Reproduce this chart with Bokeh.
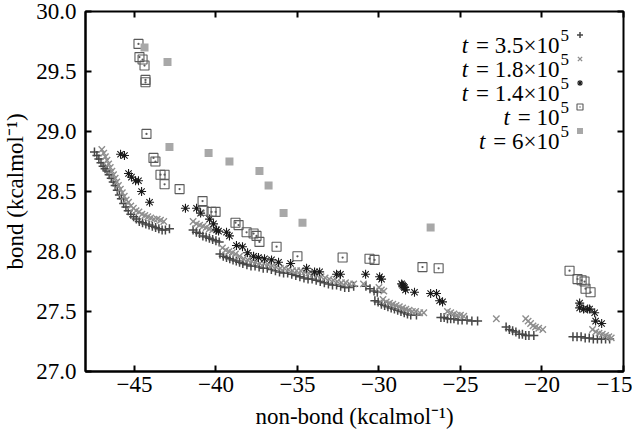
from bokeh.plotting import figure
from bokeh.models import Range1d, FixedTicker, LinearAxis, Legend, LegendItem, Label
from bokeh.embed import file_html
from bokeh.resources import INLINE

# ---------------- data ----------------
x_ticks = [-45, -40, -35, -30, -25, -20, -15]
x_tick_labels = ["−45", "−40", "−35", "−30", "−25", "−20", "−15"]
y_ticks = [27.0, 27.5, 28.0, 28.5, 29.0, 29.5, 30.0]
y_tick_labels = ["27.0", "27.5", "28.0", "28.5", "29.0", "29.5", "30.0"]

legend_main = ["= 3.5×10", "= 1.8×10", "= 1.4×10", "= 10", "= 6×10"]
legend_sup = ["5", "5", "5", "5", "5"]

# t = 3.5x10^5  (+)
t350k = [
    (-47.45, 28.83), (-47.30, 28.80), (-47.18, 28.77), (-47.05, 28.74), (-46.92, 28.71),
    (-46.80, 28.69), (-46.68, 28.67), (-46.55, 28.64), (-46.42, 28.61), (-46.30, 28.58),
    (-46.18, 28.55), (-46.05, 28.51), (-45.92, 28.47), (-45.80, 28.44), (-45.66, 28.40),
    (-45.52, 28.37), (-45.38, 28.34), (-45.22, 28.31), (-45.05, 28.29), (-44.88, 28.27),
    (-44.70, 28.25), (-44.50, 28.24), (-44.30, 28.23), (-44.10, 28.22), (-43.90, 28.21),
    (-43.70, 28.20), (-43.50, 28.19), (-43.30, 28.18), (-43.10, 28.18), (-42.85, 28.19),
    (-41.40, 28.18), (-41.20, 28.16), (-41.00, 28.15), (-40.80, 28.13), (-40.60, 28.12),
    (-40.40, 28.11), (-40.20, 28.10), (-40.00, 28.09), (-39.80, 28.08),
    (-39.75, 27.98), (-39.55, 27.96), (-39.35, 27.95), (-39.15, 27.94), (-38.95, 27.93),
    (-38.75, 27.92), (-38.55, 27.91), (-38.35, 27.90), (-38.10, 27.89), (-37.85, 27.88),
    (-37.60, 27.88), (-37.35, 27.87), (-37.10, 27.86), (-36.85, 27.86), (-36.60, 27.85),
    (-36.35, 27.84), (-36.10, 27.83), (-35.85, 27.82), (-35.60, 27.82), (-35.35, 27.81),
    (-35.10, 27.80), (-34.85, 27.79), (-34.60, 27.78), (-34.35, 27.77), (-34.10, 27.77),
    (-33.85, 27.76), (-33.60, 27.75), (-33.35, 27.74), (-33.10, 27.73), (-32.85, 27.72),
    (-32.60, 27.72), (-32.35, 27.71), (-32.10, 27.70), (-31.85, 27.70), (-31.55, 27.71),
    (-30.80, 27.71), (-30.55, 27.69), (-30.30, 27.67), (-30.10, 27.66),
    (-30.25, 27.59), (-30.05, 27.58), (-29.85, 27.56), (-29.65, 27.55), (-29.45, 27.54),
    (-29.25, 27.53), (-29.05, 27.52), (-28.85, 27.51), (-28.65, 27.50), (-28.45, 27.49),
    (-28.25, 27.48), (-28.05, 27.47), (-27.70, 27.47),
    (-26.20, 27.45), (-26.00, 27.45), (-25.80, 27.44), (-25.60, 27.44), (-25.40, 27.44),
    (-25.15, 27.43), (-24.90, 27.43), (-24.60, 27.43), (-24.30, 27.42), (-23.95, 27.42),
    (-22.20, 27.37), (-22.00, 27.35), (-21.80, 27.34), (-21.60, 27.33), (-21.40, 27.31),
    (-21.20, 27.31), (-21.00, 27.30), (-20.80, 27.30), (-20.50, 27.30),
    (-18.10, 27.29), (-17.85, 27.29), (-17.60, 27.29), (-17.35, 27.28), (-17.10, 27.28),
    (-16.85, 27.27), (-16.60, 27.27), (-16.35, 27.27), (-16.10, 27.27), (-15.85, 27.27),
]

# t = 1.8x10^5  (x)
t180k = [
    (-47.00, 28.85), (-46.88, 28.82), (-46.78, 28.79), (-46.68, 28.76), (-46.58, 28.73),
    (-46.48, 28.70), (-46.38, 28.67), (-46.28, 28.64), (-46.18, 28.61), (-46.08, 28.58),
    (-45.98, 28.55), (-45.86, 28.52), (-45.74, 28.49), (-45.62, 28.46), (-45.50, 28.43),
    (-45.36, 28.41), (-45.22, 28.38), (-45.06, 28.36), (-44.90, 28.34), (-44.72, 28.33),
    (-44.54, 28.31), (-44.36, 28.30), (-44.18, 28.29), (-44.00, 28.28), (-43.80, 28.27),
    (-43.60, 28.27), (-43.40, 28.26), (-43.20, 28.25),
    (-41.40, 28.25), (-41.20, 28.23), (-41.00, 28.22), (-40.80, 28.21), (-40.60, 28.20),
    (-40.40, 28.19), (-40.20, 28.18),
    (-39.60, 28.03), (-39.40, 28.01), (-39.20, 28.00), (-39.00, 27.99), (-38.80, 27.98),
    (-38.55, 27.96), (-38.30, 27.94), (-38.05, 27.93), (-37.80, 27.92), (-37.55, 27.91),
    (-37.30, 27.90), (-37.05, 27.90), (-36.80, 27.89), (-36.55, 27.88), (-36.30, 27.87),
    (-36.05, 27.86), (-35.80, 27.86), (-35.55, 27.85), (-35.30, 27.84), (-35.05, 27.84),
    (-34.80, 27.84), (-34.55, 27.83), (-34.30, 27.82), (-34.05, 27.81), (-33.80, 27.80),
    (-33.55, 27.79), (-33.30, 27.78), (-33.05, 27.77), (-32.80, 27.76), (-32.55, 27.75),
    (-32.30, 27.74), (-32.05, 27.74), (-31.80, 27.73), (-31.55, 27.73), (-30.95, 27.73),
    (-30.00, 27.70), (-29.85, 27.68), (-29.70, 27.67),
    (-29.75, 27.60), (-29.55, 27.58), (-29.35, 27.57), (-29.15, 27.56), (-28.95, 27.55),
    (-28.75, 27.54), (-28.55, 27.53), (-28.35, 27.52), (-28.15, 27.51), (-27.95, 27.50),
    (-27.75, 27.50), (-27.50, 27.49), (-27.25, 27.49),
    (-25.80, 27.50), (-25.60, 27.49), (-25.40, 27.48), (-25.20, 27.47), (-25.00, 27.47),
    (-24.80, 27.46), (-22.80, 27.44),
    (-21.00, 27.44), (-20.85, 27.42), (-20.70, 27.40), (-20.55, 27.38), (-20.40, 27.37),
    (-20.20, 27.36), (-19.95, 27.35),
    (-16.90, 27.35), (-16.70, 27.33), (-16.50, 27.32), (-16.30, 27.31), (-16.10, 27.30),
    (-15.90, 27.29), (-15.75, 27.28),
]

# t = 1.4x10^5  (asterisk)
t140k = [
    (-45.85, 28.81), (-45.61, 28.80), (-45.36, 28.65), (-45.18, 28.62), (-44.93, 28.59),
    (-44.75, 28.59), (-44.56, 28.50), (-44.07, 28.41), (-41.87, 28.36), (-41.19, 28.36),
    (-40.94, 28.32), (-40.39, 28.27), (-40.15, 28.23), (-39.96, 28.18), (-39.84, 28.17),
    (-39.35, 28.16), (-39.17, 28.13), (-38.74, 28.05), (-38.37, 28.04), (-38.06, 27.99),
    (-37.69, 27.96), (-37.39, 27.95), (-37.02, 27.94), (-36.59, 27.93), (-36.16, 27.91),
    (-35.42, 27.90), (-34.44, 27.86), (-33.95, 27.83), (-33.64, 27.83), (-32.60, 27.81),
    (-32.36, 27.81), (-30.82, 27.81), (-29.96, 27.79), (-29.84, 27.77), (-28.61, 27.73),
    (-28.55, 27.72), (-28.49, 27.71), (-28.43, 27.70), (-28.37, 27.68), (-27.82, 27.66),
    (-26.83, 27.65), (-26.47, 27.65), (-26.28, 27.59), (-26.10, 27.58), (-17.69, 27.57),
    (-17.69, 27.53), (-17.45, 27.52), (-17.20, 27.52), (-17.08, 27.52), (-16.77, 27.49),
    (-16.71, 27.42), (-16.34, 27.40),
]

# t = 10^5  (open square with dot)
t100k = [
    (-44.75, 29.73), (-44.69, 29.62), (-44.50, 29.60), (-44.38, 29.55), (-44.32, 29.43),
    (-44.32, 29.41), (-44.26, 28.98), (-43.83, 28.78), (-43.71, 28.75), (-43.40, 28.64),
    (-43.15, 28.64), (-43.15, 28.56), (-42.23, 28.52), (-40.82, 28.42), (-40.76, 28.34),
    (-40.27, 28.33), (-40.02, 28.33), (-38.80, 28.24), (-38.61, 28.22), (-38.12, 28.16),
    (-37.69, 28.15), (-37.51, 28.13), (-37.33, 28.08), (-36.28, 28.04), (-35.00, 27.96),
    (-32.23, 27.95), (-30.58, 27.94), (-30.27, 27.93), (-27.33, 27.87), (-26.34, 27.86),
    (-18.31, 27.84), (-17.82, 27.77), (-17.57, 27.76), (-17.39, 27.75), (-17.33, 27.69),
    (-17.02, 27.66),
]

# t = 6x10^5  (filled square)
t600k = [
    (-44.38, 29.70), (-42.97, 29.58), (-42.85, 28.87), (-40.45, 28.82), (-39.17, 28.75),
    (-37.33, 28.67), (-36.77, 28.55), (-35.85, 28.32), (-34.69, 28.24), (-26.83, 28.20),
]

# ---------------- figure ----------------
FONT = "Liberation Serif, Times New Roman, serif"
FRAME_W = 538
FRAME_H = 360

p = figure(frame_width=FRAME_W, frame_height=FRAME_H, title=None,
           x_range=Range1d(-48, -15), y_range=Range1d(27, 30),
           output_backend="svg", toolbar_location=None,
           min_border_left=81, min_border_right=9, min_border_top=11, min_border_bottom=60)
p.background_fill_color = "white"
p.border_fill_color = "white"
p.xgrid.visible = False
p.ygrid.visible = False
p.outline_line_color = "black"
p.outline_line_width = 2
p.outline_line_alpha = 1.0


def style_axis(ax, ticks, labels, show_labels=True):
    ax.ticker = FixedTicker(ticks=ticks)
    ax.major_tick_in = 6
    ax.major_tick_out = 0
    ax.major_tick_line_width = 2
    ax.major_tick_line_color = "black"
    ax.minor_tick_line_color = None
    ax.axis_line_width = 2
    ax.axis_line_color = "black"
    if show_labels:
        ax.major_label_overrides = {t: l for t, l in zip(ticks, labels)}
        ax.major_label_text_font = FONT
        ax.major_label_text_font_size = "23px"
        ax.major_label_text_color = "black"
    else:
        ax.major_label_text_font_size = "1px"
        ax.major_label_text_color = None
        ax.major_label_standoff = 0
        ax.axis_line_color = None


xax = p.xaxis[0]
style_axis(xax, x_ticks, x_tick_labels)
xax.major_label_standoff = 5
xax.axis_label = "non-bond (kcalmol⁻¹)"
xax.axis_label_text_font = FONT
xax.axis_label_text_font_size = "23px"
xax.axis_label_text_font_style = "normal"
xax.axis_label_text_color = "black"
xax.axis_label_standoff = 9

yax = p.yaxis[0]
style_axis(yax, y_ticks, y_tick_labels)
yax.major_label_standoff = 9
yax.axis_label = "bond (kcalmol⁻¹)"
yax.axis_label_text_font = FONT
yax.axis_label_text_font_size = "23px"
yax.axis_label_text_font_style = "normal"
yax.axis_label_text_color = "black"
yax.axis_label_standoff = 5

top_ax = LinearAxis()
style_axis(top_ax, x_ticks, x_tick_labels, show_labels=False)
p.add_layout(top_ax, "above")
right_ax = LinearAxis()
style_axis(right_ax, y_ticks, y_tick_labels, show_labels=False)
p.add_layout(right_ax, "right")


def xs(pts):
    return [a for a, b in pts]


def ys(pts):
    return [b for a, b in pts]


r1 = p.scatter(xs(t350k), ys(t350k), marker="cross", size=9, line_width=1.5,
               line_color="#474747")
r2 = p.scatter(xs(t180k), ys(t180k), marker="x", size=9, line_width=1.4,
               line_color="#8e8e8e")
r3 = p.scatter(xs(t140k), ys(t140k), marker="asterisk", size=9, line_width=1.1,
               line_color="#1a1a1a")
r4 = p.scatter(xs(t100k), ys(t100k), marker="square_dot", size=9, line_width=1.1,
               line_color="#5a5a5a", fill_color=None)
r5 = p.scatter(xs(t600k), ys(t600k), marker="square", size=8, line_color=None,
               fill_color="#a8a8a8")

# legend markers (to the right of the text, as in the reference)
legend = Legend(items=[LegendItem(label=" ", renderers=[r]) for r in (r1, r2, r3, r4, r5)],
                location=(487, FRAME_H - 127), orientation="vertical",
                glyph_width=15, glyph_height=15, label_height=15, label_width=0,
                label_standoff=0, spacing=9, padding=0, margin=0,
                label_text_font_size="10px", label_text_color=None,
                border_line_color=None, background_fill_alpha=0)
p.add_layout(legend)

# legend texts
ADV = {"0": 0.5, "1": 0.5, "2": 0.5, "3": 0.5, "4": 0.5, "5": 0.5, "6": 0.5,
       "7": 0.5, "8": 0.5, "9": 0.5, ".": 0.25, "=": 0.564, "×": 0.564, " ": 0.25}
MAIN_SIZE = 23
right_x = 474
for i, (main, sup) in enumerate(zip(legend_main, legend_sup)):
    base_y = FRAME_H - 34 - 24 * i
    w = sum(ADV.get(c, 0.5) for c in main) * MAIN_SIZE
    p.add_layout(Label(x=right_x, y=base_y, x_units="screen", y_units="screen",
                       text=main, text_align="right", text_baseline="alphabetic",
                       text_font=FONT, text_font_size=f"{MAIN_SIZE}px", text_color="black"))
    p.add_layout(Label(x=right_x + 1, y=base_y + 10, x_units="screen", y_units="screen",
                       text=sup, text_align="left", text_baseline="alphabetic",
                       text_font=FONT, text_font_size="17px", text_color="black"))
    p.add_layout(Label(x=right_x - w - 8, y=base_y, x_units="screen", y_units="screen",
                       text="t", text_align="right", text_baseline="alphabetic",
                       text_font=FONT, text_font_size=f"{MAIN_SIZE}px",
                       text_font_style="italic", text_color="black"))

open("out.html", "w").write(file_html(p, INLINE))
